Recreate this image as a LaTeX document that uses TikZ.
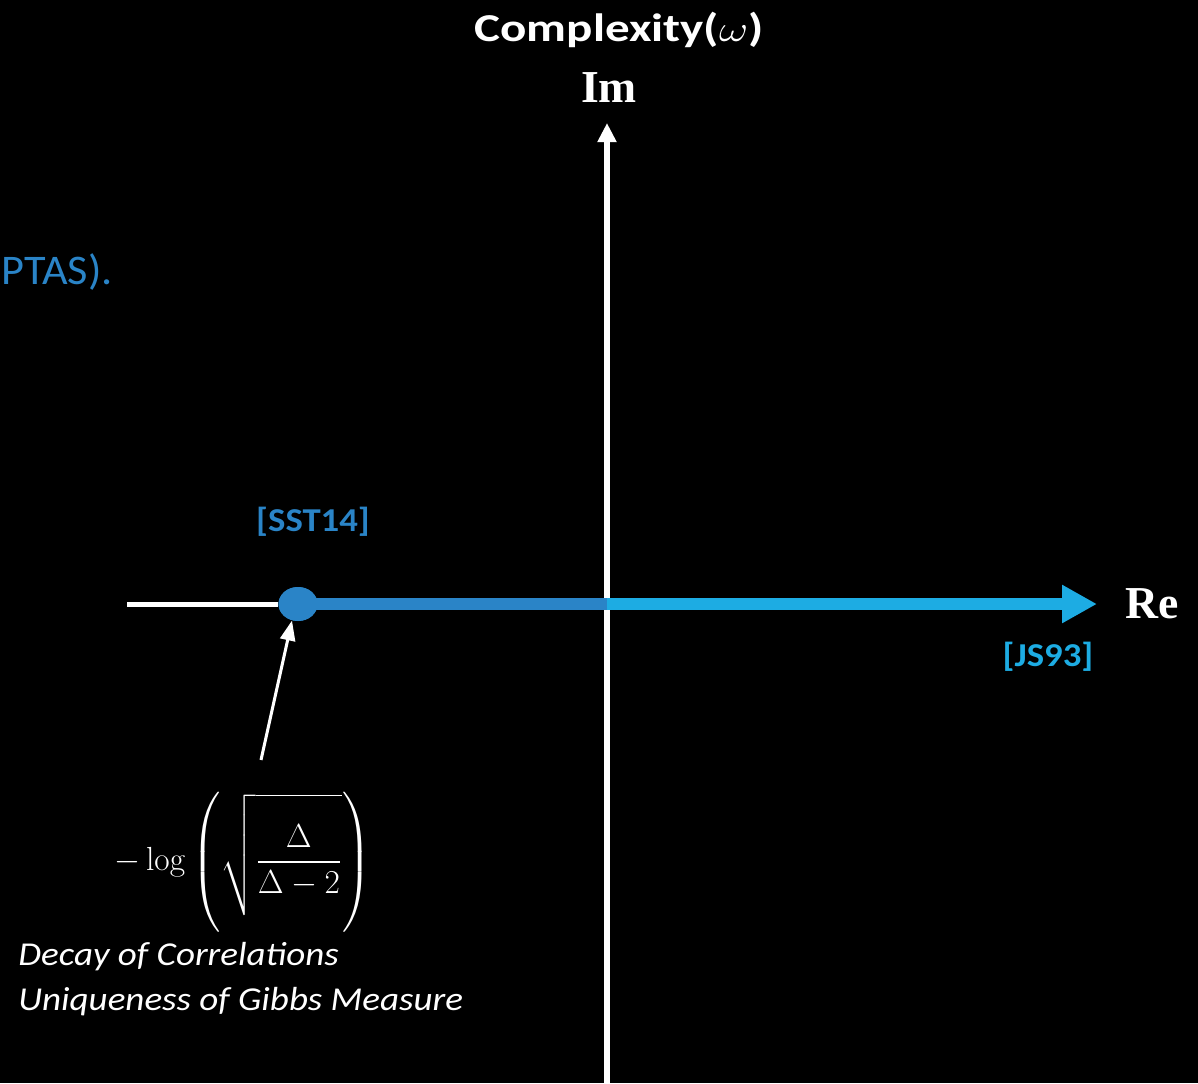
\documentclass[tikz,border=0pt]{standalone}
\usepackage{amsmath}
\usepackage[no-math]{fontspec}
\setmainfont{Carlito}
\newfontfamily\axisfont{Liberation Serif}
\usetikzlibrary{arrows.meta, positioning, shapes.geometric}
\definecolor{DBlue}{HTML}{2A84C7}
\definecolor{LBlue}{HTML}{1DACE3}
\newcommand{\stretchx}[2]{\scalebox{#1}[1]{#2}}

\begin{document}
\begin{tikzpicture}[x=0.02cm, y=-0.02cm, >=Triangle, text=white]
  \fill[black] (0,0) rectangle (1198,1083);
  \useasboundingbox (0,0) rectangle (1198,1083);
  % axes
  \coordinate (o) at (607,604);
  \coordinate (ybot) at (607,1083);
  \coordinate (ytop) at (607,123);
  \coordinate (xleft) at (127,604);
  \coordinate (xright) at (1097,604);
  \node[ellipse, fill=DBlue, inner sep=0pt, minimum width=0.78cm,
    minimum height=0.68cm] (dot) at (298,604) {};
  \draw[white, line width=0.13cm, -{Triangle[length=0.38cm, width=0.36cm]}] (ybot) -- (ytop);
  \draw[white, line width=0.1cm] (xleft) -- (dot);
  \draw[DBlue, line width=0.24cm] (dot.center) -- (o);
  \draw[LBlue, line width=0.24cm, -{Triangle[length=0.7cm, width=0.72cm]}] (o) -- (xright);
  \node[ellipse, fill=DBlue, inner sep=0pt, minimum width=0.78cm,
    minimum height=0.68cm] at (dot) {};
  % labels
  \node[font=\fontsize{22.5}{26}\selectfont\bfseries] (title) at (619,30) {\stretchx{1.24}{Complexity($\omega$)}};
  \node[font=\fontsize{26}{30}\selectfont\axisfont\bfseries] (im) at (609,88) {Im};
  \node[font=\fontsize{26}{30}\selectfont\axisfont\bfseries, right=0.45cm of xright] (re) {Re};
  \node[anchor=west, inner sep=0pt, text=DBlue, font=\fontsize{24}{28}\selectfont] (ptas) at (1,272) {\stretchx{1.05}{PTAS).}};
  \node[text=DBlue, font=\fontsize{19}{22}\selectfont\bfseries] (sst) at (313,522) {\stretchx{1.1}{[SST14]}};
  \node[text=LBlue, font=\fontsize{19}{22}\selectfont\bfseries] (js) at (1048,657) {\stretchx{1.1}{[JS93]}};
  % threshold
  \node[font=\fontsize{17}{20}\selectfont] (thr) at (243,862)
    {\scalebox{1.1}{$-\log\left(\sqrt{\rule[-0.75cm]{0pt}{2.0cm}\dfrac{\Delta}{\Delta-2}}\right)$}};
  \coordinate (ptr) at (261,760);
  \draw[white, line width=0.06cm, -{Triangle[length=0.4cm, width=0.3cm]}] (ptr) -- (dot.250);
  \node[anchor=west, inner sep=0pt, font=\fontsize{19}{22}\selectfont\itshape] (decay) at (18,957) {\stretchx{1.11}{Decay of Correlations}};
  \node[anchor=west, inner sep=0pt, font=\fontsize{19}{22}\selectfont\itshape] (uniq) at (18,1002) {\stretchx{1.11}{Uniqueness of Gibbs Measure}};
\end{tikzpicture}
\end{document}
